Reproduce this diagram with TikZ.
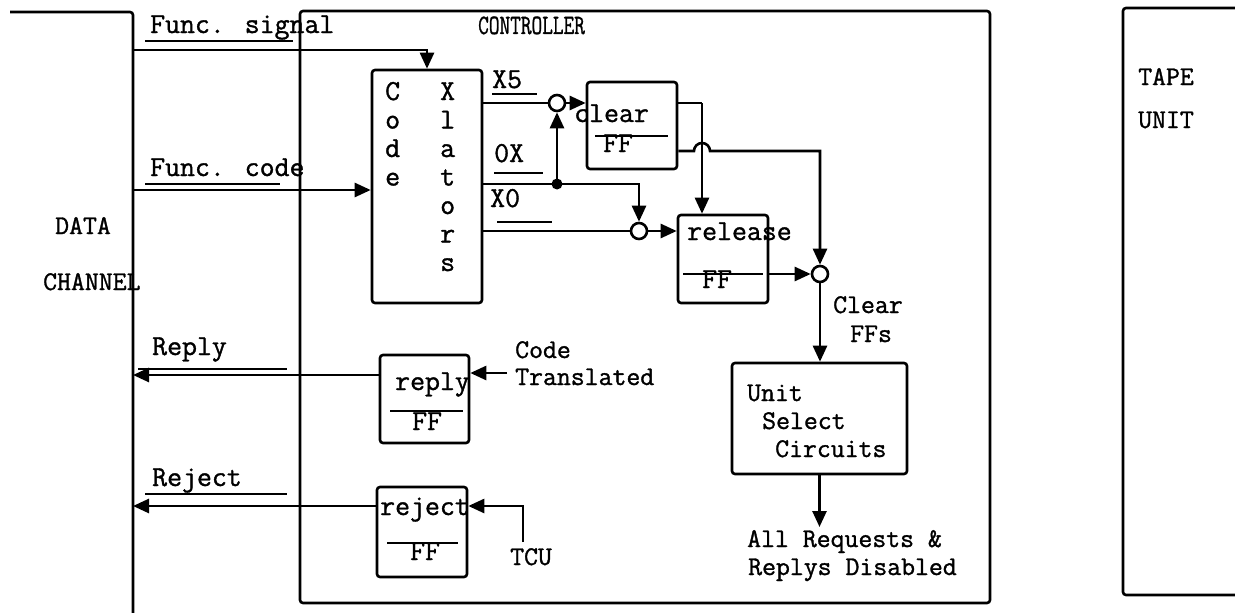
\documentclass[tikz,border=0pt]{standalone}
\usepackage{fontspec}
\newfontfamily\twfont{Latin Modern Mono}[FakeBold=1.2]
\usetikzlibrary{arrows.meta}
\tikzset{
  ln/.style={line width=2.6pt},
  arr/.style={line width=2.6pt,-{Triangle[length=16pt,width=14pt]}},
  fbox/.style={draw,line width=2.6pt,rounded corners=3pt,inner sep=0pt},
  junc/.style={circle,draw,fill=white,line width=2.6pt,inner sep=0pt,minimum size=16pt},
  dotn/.style={circle,fill,inner sep=0pt,minimum size=11pt},
  tb/.style={font=\fontsize{29}{29}\selectfont\twfont,inner sep=0pt,anchor=base west},
  ts/.style={font=\fontsize{27}{27}\selectfont\twfont,inner sep=0pt,anchor=base west},
  tc/.style={font=\fontsize{28}{28}\selectfont\twfont,inner sep=0pt,anchor=base west},
  ul/.style={line width=2pt},
}
\begin{document}
\begin{tikzpicture}[x=1pt,y=-1pt]
\useasboundingbox (0,0) rectangle (1235,613);
% outer frames
\draw[ln,rounded corners=3pt] (10,12) -- (133,12) -- (133,613);
\draw[ln,rounded corners=3pt] (300,11) rectangle (990,603);
\draw[ln,rounded corners=3pt] (1235,8) -- (1123,8) -- (1123,595) -- (1235,595);
% frame labels
\node[ts] (tdata) at (55,234) {DATA};
\node[ts] (tchan) at (43,290) {CHANNEL};
\node[ts] (ttape) at (1138,85) {TAPE};
\node[ts] (tunit) at (1138,128) {UNIT};
\node[tc] (tctrl) at (478,34) {\scalebox{0.74}[1]{CONTROLLER}};
% boxes
\node[fbox,minimum width=110pt,minimum height=233pt] (code) at (427,186.5) {};
\node[fbox,minimum width=90pt,minimum height=87pt] (clearff) at (632,125.5) {};
\node[fbox,minimum width=90pt,minimum height=88pt] (releaseff) at (723,259) {};
\node[fbox,minimum width=89pt,minimum height=88pt] (replyff) at (424.5,399) {};
\node[fbox,minimum width=90pt,minimum height=90pt] (rejectff) at (422,532) {};
\node[fbox,minimum width=175pt,minimum height=111pt] (unitsel) at (819.5,418.5) {};
% junctions
\node[junc] (c1) at (557,103) {};
\node[junc] (c2) at (639,231) {};
\node[junc] (c3) at (820,274) {};
\node[dotn] (d1) at (557,184) {};
% free ends
\coordinate (fs) at (133,50);
\coordinate (fc) at (133,190);
\coordinate (rp) at (133,375);
\coordinate (rj) at (133,506);
\coordinate (ct) at (507,373);
\coordinate (tcu) at (523,542);
\coordinate (j1) at (702,103);
\coordinate (out) at (819.5,527);
% code xlators text
\foreach \l [count=\i from 0] in {C,o,d,e} \node[tb] (cd\i) at (385,100+28.5*\i) {\l};
\foreach \l [count=\i from 0] in {X,l,a,t,o,r,s} \node[tb] (xl\i) at (440,100+28.5*\i) {\l};
% box texts
\node[tb] (tclear) at (574,122) {clear};
\draw[ul] (595,136) -- (668,136);
\node[tb] (tff1) at (603,152) {FF};
\node[tb] (trel) at (687,240) {release};
\draw[ul] (683,274) -- (763,274);
\node[tb] (tff2) at (702,288) {FF};
\node[tb] (trep) at (395,390) {reply};
\draw[ul] (390,411) -- (463,411);
\node[tb] (tff3) at (412,430) {FF};
\node[tb] (trej) at (380,515) {reject};
\draw[ul] (387,543) -- (458,543);
\node[tb] (tff4) at (410,560) {FF};
\node[ts] (tus1) at (747,401) {Unit};
\node[ts] (tus2) at (762,429) {Select};
\node[ts] (tus3) at (775,457) {Circuits};
% signal labels
\node[tb] (tfs) at (150,33) {Func. signal};
\draw[ul] (145,41) -- (293,41);
\node[tb] (tfc) at (150,176) {Func. code};
\draw[ul] (145,184) -- (280,184);
\node[tb] (trply) at (152,355) {Reply};
\draw[ul] (138,369) -- (287,369);
\node[tb] (trjct) at (152,486) {Reject};
\draw[ul] (145,494) -- (287,494);
\node[tb] (tx5) at (492,88) {X5};
\draw[ul] (492,94) -- (537,94);
\node[tb] (t0x) at (494,162) {0X};
\draw[ul] (494,173) -- (543,173);
\node[tb] (tx0) at (490,207) {X0};
\draw[ul] (497,222) -- (552,222);
\node[ts] (tcode) at (515,358) {Code};
\node[ts] (ttrans) at (515,385) {Translated};
\node[ts] (ttcu) at (510,565) {TCU};
\node[ts] (tclr) at (833,313) {Clear};
\node[ts] (tffs) at (850,342) {FFs};
\node[ts] (tall1) at (747,547) {All Requests \&};
\node[ts] (tall2) at (748,575) {Replys Disabled};
% connectors
\draw[arr] (fs) -| (code.north);
\draw[arr] (fc) -- (fc -| code.west);
\draw[ln] (code.east |- c1) -- (c1.west);
\draw[arr] (c1.east) -- (clearff.west |- c1);
\draw[ln] (code.east |- d1) -- (d1.center);
\draw[arr] (d1.center) -| (c2.north);
\draw[arr] (d1.center) -- (c1.south);
\draw[ln] (code.east |- c2) -- (c2.west);
\draw[arr] (c2.east) -- (releaseff.west |- c2);
\draw[ln] (clearff.east |- j1) -- (j1);
\draw[arr] (j1) -- (releaseff.north -| j1);
\draw[arr] (clearff.east |- 0,151) -- (694,151) arc[start angle=180,end angle=0,radius=8pt] -- (c3.north |- 0,151) -- (c3.north);
\draw[arr] (releaseff.east |- c3) -- (c3.west);
\draw[arr] (c3.south) -- (c3.south |- unitsel.north);
\draw[arr] (unitsel.south) -- (out);
\draw[arr] (replyff.west |- rp) -- (rp);
\draw[arr] (ct) -- (replyff.east |- ct);
\draw[arr] (rejectff.west |- rj) -- (rj);
\draw[arr] (tcu) |- (rejectff.east |- rj);
\end{tikzpicture}
\end{document}
